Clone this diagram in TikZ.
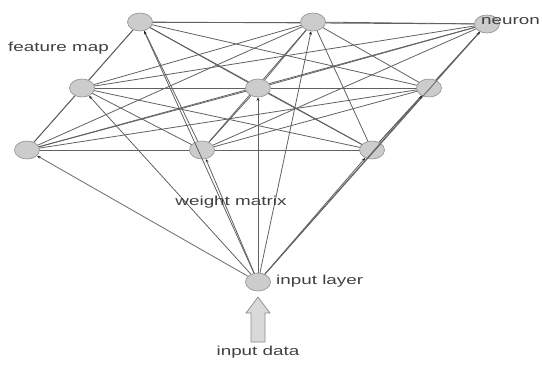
\documentclass[tikz,border=0pt]{standalone}
\usepackage{fontspec}
\setmainfont{Liberation Sans}
\usetikzlibrary{arrows.meta,shapes.geometric}
\begin{document}
\begin{tikzpicture}[x=1pt,y=-1pt,
  neuron/.style={draw=black!40,fill=black!20,ellipse,minimum width=25pt,minimum height=18pt,inner sep=0pt,line width=0.7pt},
  link/.style={draw=black!62,line width=0.8pt},
  feed/.style={draw=black!62,line width=0.8pt,-{Stealth[length=3.5pt,width=3pt,color=black!85]}},
  blockarrow/.style={draw=black!45,fill=black!15,line width=0.7pt},
  lbl/.style={font=\fontsize{13}{13}\selectfont,text=black!75,inner sep=0pt}]
\useasboundingbox (0,0) rectangle (542,367);
\coordinate (pA1) at (140,22);
\coordinate (pA2) at (313,22);
\coordinate (pA3) at (487,24);
\coordinate (pB1) at (82,88);
\coordinate (pB2) at (258,88);
\coordinate (pB3) at (429,88);
\coordinate (pC1) at (27,150);
\coordinate (pC2) at (202,150);
\coordinate (pC3) at (372,150);
\coordinate (pI) at (258,282);
% edges within feature map
\foreach \a/\b in {A1/A2,A1/A3,A1/B1,A1/B2,A1/B3,A1/C1,A1/C2,A1/C3,
                   A2/A3,A2/B1,A2/B2,A2/B3,A2/C1,A2/C2,A2/C3,
                   A3/B1,A3/B2,A3/B3,A3/C1,A3/C2,A3/C3,
                   B1/B2,B1/B3,B1/C1,B1/C2,B1/C3,
                   B2/B3,B2/C1,B2/C2,B2/C3,
                   B3/C1,B3/C2,B3/C3,
                   C1/C2,C1/C3,C2/C3}
  \draw[link] (p\a) -- (p\b);
% nodes
\foreach \n in {A1,A2,A3,B1,B2,B3,C1,C2,C3,I}
  \node[neuron] (\n) at (p\n) {};
% feed arrows
\foreach \n in {A1,A2,A3,B1,B2,B3,C1,C2,C3}
  \draw[feed] (I) -- (\n);
% input block arrow
\coordinate (tip) at (258,297);
\draw[blockarrow] (tip) -- (270,313) -- (265,313) -- (265,342) -- (251,342) -- (251,313) -- (246,313) -- cycle;
% labels
\node[lbl,anchor=west] (tfm) at (8,48) {\scalebox{1.45}[1]{feature map}};
\node[lbl,anchor=west] (tneu) at (481,21) {\scalebox{1.45}[1]{neuron}};
\node[lbl,anchor=center] (twm) at (231,202) {\scalebox{1.45}[1]{weight matrix}};
\node[lbl,anchor=west] (til) at (276,281) {\scalebox{1.45}[1]{input layer}};
\node[lbl,anchor=center] (tid) at (258,352) {\scalebox{1.45}[1]{input data}};
\end{tikzpicture}
\end{document}
